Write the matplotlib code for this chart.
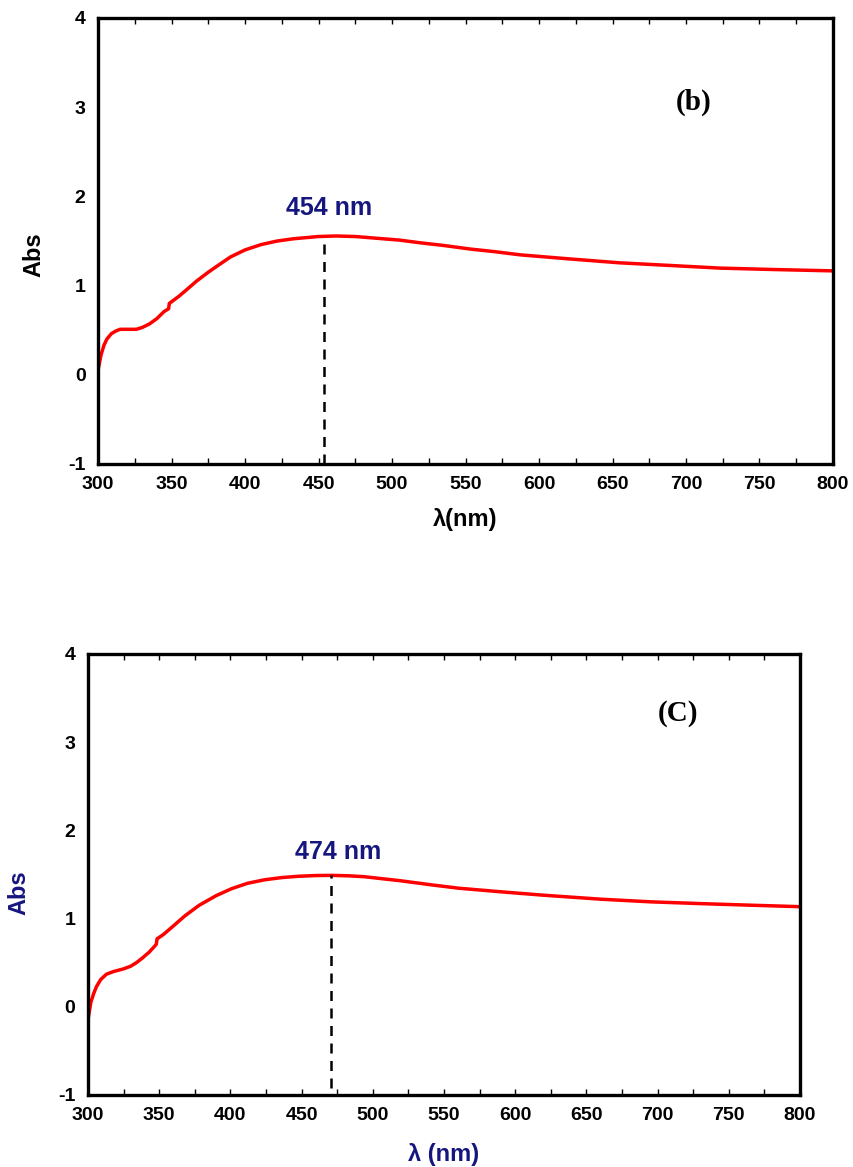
import matplotlib
matplotlib.use("Agg")
import matplotlib.pyplot as plt
from matplotlib.ticker import MultipleLocator

plt.rcParams["font.family"] = ["Liberation Sans", "DejaVu Sans"]
plt.rcParams["font.weight"] = "bold"
plt.rcParams["axes.unicode_minus"] = False

# spectrum (b)
wl_b = [300, 302, 304, 306, 309, 312, 315, 320, 326, 330, 335, 340, 345, 348,
        348.5, 355, 360, 367, 375, 382, 390, 400, 411, 422, 433, 450, 462, 475,
        490, 505, 519, 535, 553, 570, 587, 620, 655, 690, 723, 760, 800]
abs_b = [0.05, 0.22, 0.33, 0.40, 0.46, 0.49, 0.51, 0.51, 0.51, 0.53, 0.57, 0.63,
         0.71, 0.74, 0.80, 0.88, 0.95, 1.05, 1.15, 1.23, 1.32, 1.40, 1.46, 1.50,
         1.525, 1.55, 1.556, 1.55, 1.53, 1.51, 1.48, 1.45, 1.41, 1.38, 1.345,
         1.30, 1.255, 1.225, 1.196, 1.18, 1.165]

# spectrum (C)
wl_c = [300, 302, 304, 306, 309, 313, 318, 325, 330, 334, 338, 343, 347, 348,
        348.5, 353, 359.5, 368, 378, 390, 401, 412, 424, 436, 448, 460, 471, 483,
        494, 505, 519, 540, 560, 589, 620, 660, 695, 730, 765, 800]
abs_c = [-0.15, 0.05, 0.15, 0.23, 0.31, 0.37, 0.40, 0.43, 0.46, 0.50, 0.55, 0.62,
         0.69, 0.71, 0.77, 0.82, 0.91, 1.03, 1.15, 1.26, 1.34, 1.40, 1.44, 1.465,
         1.48, 1.488, 1.49, 1.485, 1.475, 1.455, 1.43, 1.385, 1.345, 1.305, 1.265,
         1.22, 1.19, 1.17, 1.152, 1.135]

peak_b, peak_b_abs, peak_b_text = 454, 1.55, "454 nm"
peak_c, peak_c_abs, peak_c_text = 471, 1.49, "474 nm"

NAVY = "#16167f"

fig = plt.figure(figsize=(8.54, 11.67), dpi=100)
ax_b = fig.add_axes([0.1148, 0.6024, 0.8606, 0.3822])
ax_c = fig.add_axes([0.1030, 0.0617, 0.8338, 0.3779])


def style_axes(ax):
    ax.set_xlim(300, 800)
    ax.set_ylim(-1, 4)
    ax.xaxis.set_major_locator(MultipleLocator(50))
    ax.xaxis.set_minor_locator(MultipleLocator(25))
    ax.yaxis.set_major_locator(MultipleLocator(1))
    ax.tick_params(axis="x", which="both", direction="in", top=True,
                   length=4, width=1, pad=9, labelsize=14)
    ax.tick_params(axis="y", which="both", length=0, pad=9, labelsize=14)
    for lab in ax.get_xticklabels() + ax.get_yticklabels():
        lab.set_fontweight("bold")
    for sp in ax.spines.values():
        sp.set_linewidth(2.4)


# (b)
style_axes(ax_b)
ax_b.plot(wl_b, abs_b, color="red", lw=2.5)
ax_b.plot([peak_b, peak_b], [-1, peak_b_abs], color="black", lw=1.8,
          ls=(0, (4, 3)))
ax_b.text(457, 1.87, peak_b_text, color=NAVY, fontsize=18, fontweight="bold",
          ha="center", va="center")
ax_b.text(705, 3.05, "(b)", fontsize=21, fontweight="bold", ha="center",
          va="center", family="Liberation Serif")
ax_b.set_xlabel("λ(nm)", fontsize=17, fontweight="bold")
ax_b.set_ylabel("Abs", fontsize=17, fontweight="bold")
ax_b.xaxis.set_label_coords(0.5, -0.098)
ax_b.yaxis.set_label_coords(-0.071, 0.47)

# (C)
style_axes(ax_c)
ax_c.plot(wl_c, abs_c, color="red", lw=2.5)
ax_c.plot([peak_c, peak_c], [-0.92, peak_c_abs], color="black", lw=1.8,
          ls=(0, (4, 3)))
ax_c.text(476, 1.76, peak_c_text, color=NAVY, fontsize=18, fontweight="bold",
          ha="center", va="center")
ax_c.text(714, 3.33, "(C)", fontsize=21, fontweight="bold", ha="center",
          va="center", family="Liberation Serif")
ax_c.set_xlabel("λ (nm)", fontsize=17, fontweight="bold", color=NAVY)
ax_c.set_ylabel("Abs", fontsize=17, fontweight="bold", color=NAVY)
ax_c.xaxis.set_label_coords(0.5, -0.109)
ax_c.yaxis.set_label_coords(-0.081, 0.458)

fig.savefig("out.png", dpi=100)
